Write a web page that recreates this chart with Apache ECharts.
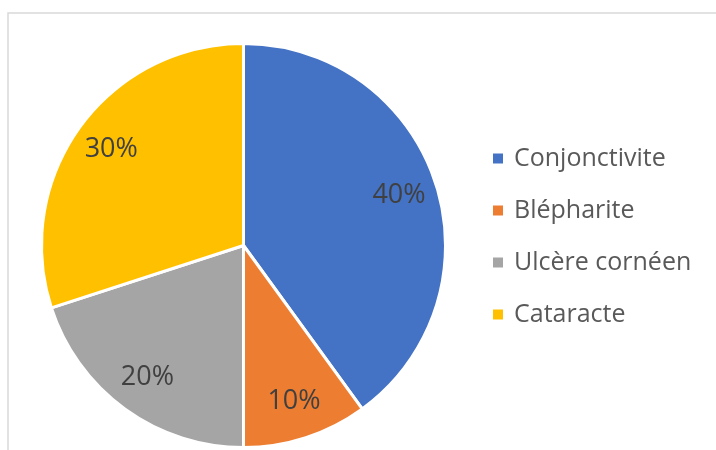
<!DOCTYPE html>
<html>
<head>
<meta charset="utf-8">
<script src="https://cdn.jsdelivr.net/npm/echarts@6/dist/echarts.min.js"></script>
<style>
  html, body { margin: 0; padding: 0; background: #ffffff; }
  #chart { width: 716px; height: 450px; }
</style>
</head>
<body>
<div id="chart"></div>
<script>
// Eye conditions and their share of cases
const categories = ['Conjonctivite', 'Blépharite', 'Ulcère cornéen', 'Cataracte'];
const shares = [40, 10, 20, 30];
const colors = ['#4472C4', '#ED7D31', '#A5A5A5', '#FFC000'];

const FONT = '"Open Sans", "Liberation Sans", sans-serif';
const CENTER = [243.5, 245.5];
const RADIUS = 202;

const sliceData = categories.map((name, i) => ({
  name: name,
  value: shares[i],
  itemStyle: { color: colors[i] }
}));

const chart = echarts.init(document.getElementById('chart'), null, { renderer: 'canvas' });

chart.setOption({
  animation: false,
  backgroundColor: '#ffffff',
  graphic: [{
    type: 'rect',
    silent: true,
    z: -10,
    shape: { x: 8, y: 13, width: 740, height: 480 },
    style: { fill: 'none', stroke: '#d9d9d9', lineWidth: 1.5 }
  }],
  legend: {
    orient: 'vertical',
    left: 491,
    top: 146,
    padding: 0,
    itemWidth: 12,
    itemHeight: 12,
    itemGap: 27,
    icon: 'rect',
    data: categories,
    textStyle: {
      fontFamily: FONT,
      fontSize: 25,
      color: '#595959',
      padding: [0, 0, 0, 5]
    }
  },
  series: [
    {
      // the slices
      type: 'pie',
      center: CENTER,
      radius: [0, RADIUS],
      startAngle: 90,
      clockwise: true,
      silent: true,
      label: { show: false },
      labelLine: { show: false },
      itemStyle: { borderColor: '#ffffff', borderWidth: 3 },
      data: sliceData
    },
    {
      // a transparent ring that carries the percentage labels
      type: 'pie',
      center: CENTER,
      radius: [119, RADIUS],
      startAngle: 90,
      clockwise: true,
      silent: true,
      itemStyle: { color: 'rgba(0,0,0,0)' },
      label: {
        show: true,
        position: 'inside',
        formatter: p => p.value + '%',
        fontFamily: FONT,
        fontSize: 27,
        color: '#404040'
      },
      labelLine: { show: false },
      data: categories.map((name, i) => ({ name: name, value: shares[i] }))
    }
  ]
});
</script>
</body>
</html>
